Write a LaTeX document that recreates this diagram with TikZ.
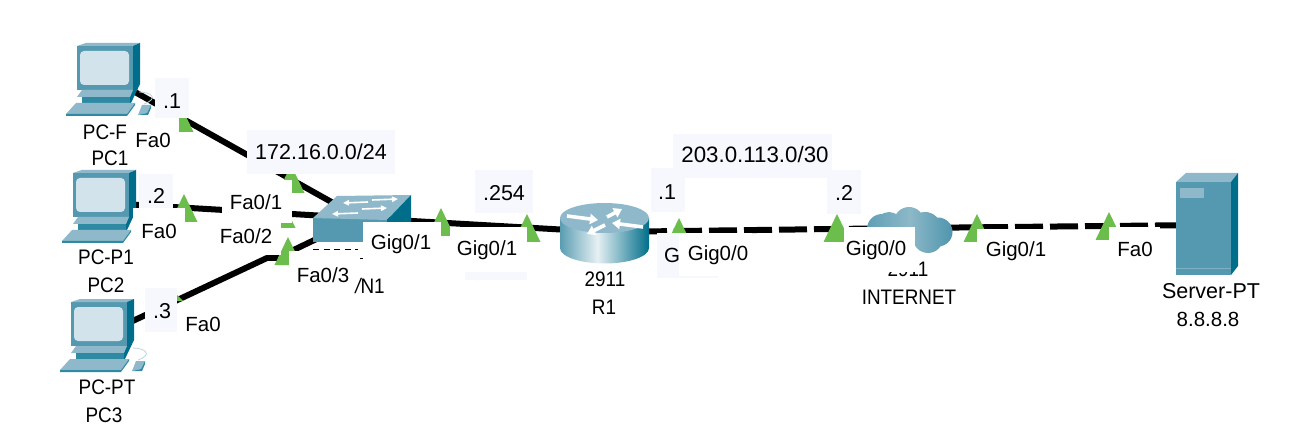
\documentclass[tikz,border=0pt]{standalone}
\usepackage{fontspec}
\setmainfont{Liberation Sans}
\newfontfamily\narrowf[FakeStretch=0.9]{Liberation Sans}
\usetikzlibrary{arrows.meta}
\definecolor{front}{HTML}{5599B0}
\definecolor{topc}{HTML}{8FB9CA}
\definecolor{sidec}{HTML}{006E8A}
\definecolor{bandc}{HTML}{2E8AA3}
\definecolor{screenc}{HTML}{D3E3EB}
\definecolor{tint}{HTML}{F7F8FE}
\definecolor{portg}{HTML}{6CBE4C}
\definecolor{rtA}{HTML}{5A9DB3}
\definecolor{rtB}{HTML}{E6F0F3}
\definecolor{rtC}{HTML}{006E8A}
\definecolor{clA}{HTML}{5F9FB5}
\definecolor{clB}{HTML}{8DB8C8}
\definecolor{clC}{HTML}{4F95AD}
\pgfdeclarehorizontalshading{rtrbody}{100bp}{color(0bp)=(rtA);color(25bp)=(rtA);color(46bp)=(rtB);color(75bp)=(rtC);color(100bp)=(rtC)}
\pgfdeclarehorizontalshading{cldbody}{100bp}{color(0bp)=(clA);color(25bp)=(clA);color(50bp)=(clB);color(75bp)=(clC);color(100bp)=(clC)}
\tikzset{
  x=1pt,y=-1pt,
  link/.style={line width=6pt,black},
  dashlink/.style={line width=6pt,black,dash pattern=on 28pt off 7pt},
  device/.style={inner sep=0pt,minimum size=4pt},
  txt/.style={inner sep=0pt,font=\fontsize{20.5}{20.5}\selectfont,black},
  note/.style={inner sep=0pt,font=\fontsize{21.5}{21.5}\selectfont,black},
  devtxt/.style={inner sep=0pt,font=\narrowf\fontsize{21}{21}\selectfont,black},
  arr/.style={white,line width=1.6pt,-{Triangle[width=5.5pt,length=6pt]}},
  rtarr/.style={white,line width=3.6pt,-{Triangle[width=10pt,length=8pt]}},
}
\newcommand{\porttri}[2]{\fill[portg] (#1,#2) -- ++(13.5,28) -- ++(-27,0) -- cycle;}
\newcommand{\pcicon}[3]{%
 \begin{scope}[shift={(#1,#2)}]
  % monitor
  \fill[front] (77,46) rectangle (133,90);
  \fill[topc] (77,46) -- (86,43) -- (140,43) -- (133,46) -- cycle;
  \fill[sidec] (133,46) -- (140,43) -- (140,84) -- (131,103) -- (82,103) -- (82,97) -- (133,90) -- cycle;
  \fill[screenc,rounded corners=4pt] (80,51) rectangle (129,85);
  % stand
  \fill[topc] (82,90) -- (133,90) -- (130,97) -- (77,97) -- cycle;
  \fill[bandc] (82,97) rectangle (130,103);
  % keyboard
  \fill[topc] (76,103) -- (135,103) -- (127,114) -- (66,114) -- cycle;
  \fill[bandc] (66,114) -- (127,114) -- (135,103) -- (135,105) -- (127,116) -- (66,116) -- cycle;
  #3
 \end{scope}}
\newcommand{\pcmouse}{%
  \draw[topc!60,line width=.8pt] (139,92) .. controls (150,92) and (160,98) .. (144,104);
  \fill[topc] (142,105) -- (151,105) -- (147,113) -- (138,115) -- cycle;
  \fill[bandc] (147,113) -- (151,105) -- (151,108) -- (148,115) -- (138,115) -- cycle;}
\begin{document}
\begin{tikzpicture}
\useasboundingbox (0,0) rectangle (1300,446);
\fill[white] (0,0) rectangle (1300,446);
% device anchors
\node[device] (pc1) at (110,78) {};
\node[device] (pc2) at (105,203) {};
\node[device] (pc3) at (105,334) {};
\node[device] (sw) at (360,218) {};
\node[device] (r1) at (604,232) {};
\node[device] (cloud) at (910,228) {};
\node[device] (srv) at (1205,225) {};
\coordinate (b1) at (267,258);
\coordinate (b2) at (277,258);
% links
\draw[link] (pc1.center) -- (sw.center);
\draw[link] (pc2.center) -- (sw.center);
\draw[link] (pc3.center) -- (b1) -- (b2) -- (sw.center);
\draw[link] (sw.center) -- (r1.center);
\draw[dashlink] (r1.center) -- (cloud.center);
\draw[dashlink] (cloud.center) -- (srv.center);
% port triangles
\porttri{180}{104}
\porttri{291}{165}
\porttri{184}{194}
\porttri{282}{200}
\porttri{288}{237}
\porttri{441}{208}
\porttri{527}{214}
\porttri{679}{218}
\porttri{837}{214}
\porttri{977}{214}
\porttri{1109}{212}
\fill[portg] (177,295) -- (183,301) -- (177,301) -- cycle;
% PCs
\pcicon{0}{0}{\pcmouse}
\pcicon{-4}{127}{}
\pcicon{-6}{256}{\pcmouse}
% switch
\fill[front] (313,218) rectangle (387,242);
\fill[topc] (313,218) -- (337,196) -- (411,195) -- (387,220) -- cycle;
\fill[sidec] (387,220) -- (411,195) -- (411,222) -- (387,245) -- cycle;
\draw[arr] (368,202) -- (343,203);
\draw[arr] (372,200) -- (398,199);
\draw[arr] (358,213) -- (332,214);
\draw[arr] (362,209) -- (387,208);
\draw[black,line width=.9pt,dash pattern=on 6pt off 4.5pt] (313,249.5) -- (358,249.5);
\fill[black] (360,258) rectangle (363,259);
% router
\shade[shading=rtrbody] (560,218) -- (560,248) arc[x radius=44.5,y radius=15.5,start angle=180,end angle=0] -- (649,218) -- cycle;
\fill[topc] (604.5,218) ellipse[x radius=44.5,y radius=15];
\draw[rtarr] (567,216) -- (598,220);
\draw[rtarr] (607,217) -- (622,209);
\draw[rtarr] (643,227) -- (612,223);
\draw[rtarr] (605,225) -- (587,234);
% cloud
\shade[shading=cldbody] (882,229) circle[radius=15] (889,225) circle[radius=13] (909,222) circle[radius=15] (925,228) circle[radius=16] (938,232) circle[radius=14.5] (928,238) circle[radius=15];
% server
\fill[front] (1176,182) rectangle (1231,275);
\fill[topc] (1176,182) -- (1186,173) -- (1238,173) -- (1231,182) -- cycle;
\fill[sidec] (1231,182) -- (1238,173) -- (1238,266) -- (1231,275) -- cycle;
\fill[topc] (1180,188) rectangle (1204,198);
\fill[topc!70!front] (1176,268) rectangle (1231,269);
% covered device label
\node[devtxt] (cloudmodel) at (908,269) {2911};
% tinted note boxes and white port boxes
\fill[tint] (155,78) rectangle (189,118);
\fill[white] (128,118) rectangle (179,155);
\fill[tint] (247,130) rectangle (395,174);
\fill[tint] (139,174) rectangle (173,208);
\fill[white] (133,208) rectangle (185,243);
\fill[white] (222,180) rectangle (292,223);
\fill[white] (218,223) rectangle (281,255);
\fill[white] (289,251) rectangle (358,292);
\fill[white] (363,222) rectangle (441,272);
\fill[tint] (475,170) rectangle (533,213);
\fill[tint] (465,272) rectangle (527,280);
\fill[white] (450,227) rectangle (527,272);
\fill[tint] (145,288) rectangle (177,332);
\fill[tint] (673,134) rectangle (832,178);
\fill[tint] (651,168) rectangle (685,212);
\fill[tint] (827,170) rectangle (861,214);
\fill[tint] (657,233) rectangle (719,278);
\node[txt] (gcut) at (672,255) {G};
\fill[white] (679,233) rectangle (752,276);
\fill[white] (844,227) rectangle (915,272);
\fill[white] (977,229) rectangle (1050,268);
\fill[white] (1109,227) rectangle (1160,265);
% device labels
\node[devtxt] (l1) at (105,132) {PC-F};
\node[devtxt] (l2) at (110,158) {PC1};
\node[devtxt] (l3) at (106,257) {PC-P1};
\node[devtxt] (l4) at (106,285) {PC2};
\node[devtxt] (l5) at (107,387) {PC-PT};
\node[devtxt] (l6) at (104,415) {PC3};
\node[devtxt] (l7) at (370,286) {\itshape/\upshape N1};
\node[devtxt] (l8) at (605,279) {2911};
\node[devtxt] (l9) at (604,307) {R1};
\node[devtxt] (l10) at (909,297) {INTERNET};
\node[note] (l11) at (1211,291) {Server-PT};
\node[txt] (l12) at (1208,319) {8.8.8.8};
% port labels
\node[txt] at (153,140) {Fa0};
\node[txt] at (159,231) {Fa0};
\node[txt] at (203,324) {Fa0};
\node[txt] at (256,202) {Fa0/1};
\node[txt] at (246,236) {Fa0/2};
\node[txt] at (323,275) {Fa0/3};
\node[txt] at (401,244) {Gig0/1};
\node[txt] at (487,250) {Gig0/1};
\node[txt] at (718,255) {Gig0/0};
\node[txt] at (876,250) {Gig0/0};
\node[txt] at (1016,251) {Gig0/1};
\node[txt] at (1135,249) {Fa0};
% notes
\node[note] at (172,101) {.1};
\node[note] at (156,196) {.2};
\node[note] at (162,311) {.3};
\node[note] at (321,152) {172.16.0.0/24};
\node[note] at (504,193) {.254};
\node[note] at (667,192) {.1};
\node[note,font=\fontsize{22.3}{22.3}\selectfont] at (755,155) {203.0.113.0/30};
\node[note] at (844,193) {.2};
\end{tikzpicture}
\end{document}
